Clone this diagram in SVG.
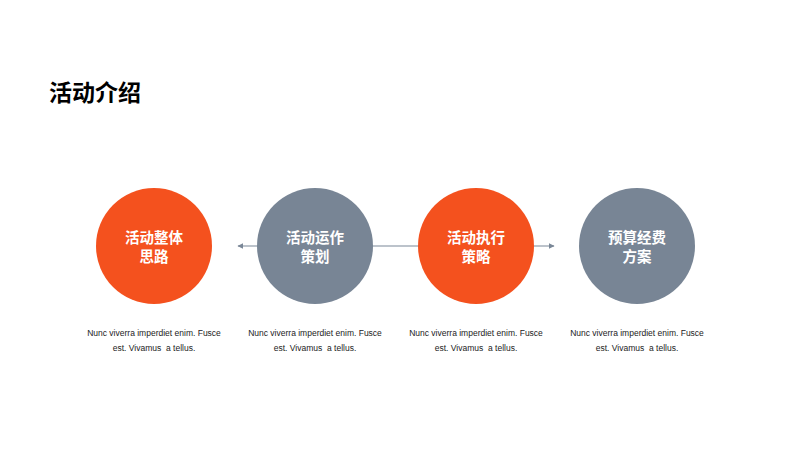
<svg xmlns="http://www.w3.org/2000/svg" width="800" height="450" viewBox="0 0 800 450">
<style>
.title{font-family:"Noto Sans CJK SC","Noto Sans",sans-serif;font-weight:bold;font-size:23px;fill:#000}
.lbl{font-family:"Noto Sans CJK SC","Noto Sans",sans-serif;font-weight:bold;font-size:14.5px;fill:#fff;text-anchor:middle}
.desc{font-family:"Liberation Sans",Arial,sans-serif;font-size:8.5px;fill:#222;text-anchor:middle;white-space:pre}
.orange{fill:#f4511e}
.gray{fill:#788595}
.conn{stroke:#7a8797;stroke-width:1.2;fill:none}
</style>
<defs>
<marker id="ah" viewBox="0 0 10 10" refX="9" refY="5" markerWidth="6" markerHeight="6" orient="auto-start-reverse" markerUnits="userSpaceOnUse">
<path d="M0,0 L10,5 L0,10 z" fill="#7a8797"/>
</marker>
</defs>
<rect width="800" height="450" fill="#fff"/>
<text class="title" x="49" y="101">活动介绍</text>
<g id="connectors">
<line class="conn" x1="238" y1="246" x2="554" y2="246" marker-start="url(#ah)" marker-end="url(#ah)"/>
</g>
<g id="node1">
<circle class="orange" cx="154" cy="246" r="58"/>
<text class="lbl" x="154" y="243">活动整体</text>
<text class="lbl" x="154" y="262">思路</text>
<text class="desc" x="154" y="336">Nunc viverra imperdiet enim. Fusce</text>
<text class="desc" x="154" y="351">est. Vivamus  a tellus.</text>
</g>
<g id="node2">
<circle class="gray" cx="315" cy="246" r="58"/>
<text class="lbl" x="315" y="243">活动运作</text>
<text class="lbl" x="315" y="262">策划</text>
<text class="desc" x="315" y="336">Nunc viverra imperdiet enim. Fusce</text>
<text class="desc" x="315" y="351">est. Vivamus  a tellus.</text>
</g>
<g id="node3">
<circle class="orange" cx="476" cy="246" r="58"/>
<text class="lbl" x="476" y="243">活动执行</text>
<text class="lbl" x="476" y="262">策略</text>
<text class="desc" x="476" y="336">Nunc viverra imperdiet enim. Fusce</text>
<text class="desc" x="476" y="351">est. Vivamus  a tellus.</text>
</g>
<g id="node4">
<circle class="gray" cx="637" cy="246" r="58"/>
<text class="lbl" x="637" y="243">预算经费</text>
<text class="lbl" x="637" y="262">方案</text>
<text class="desc" x="637" y="336">Nunc viverra imperdiet enim. Fusce</text>
<text class="desc" x="637" y="351">est. Vivamus  a tellus.</text>
</g>
</svg>
